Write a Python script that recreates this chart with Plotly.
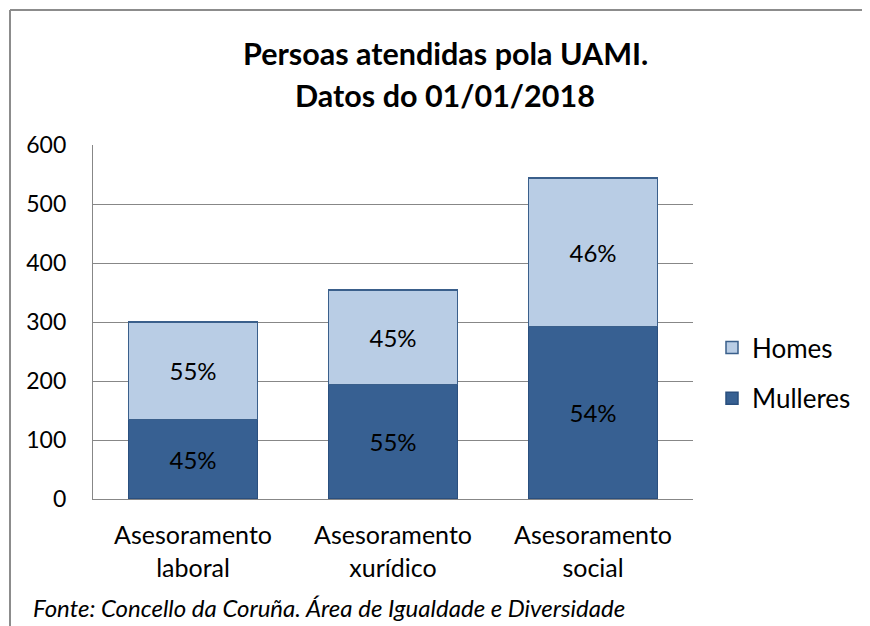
import plotly.graph_objects as go

categories = ["Asesoramento<br>laboral", "Asesoramento<br>xurídico", "Asesoramento<br>social"]
mulleres = [135, 194, 292]
homes = [165, 160, 252]
y_ticks = [0, 100, 200, 300, 400, 500, 600]
title_lines = ["Persoas atendidas pola UAMI.", "Datos do 01/01/2018"]
source = "Fonte: Concello da Coruña. Área de Igualdade e Diversidade"

totals = [m + h for m, h in zip(mulleres, homes)]
pct_m = [f"{round(100 * m / t)}%" for m, t in zip(mulleres, totals)]
pct_h = [f"{round(100 * h / t)}%" for h, t in zip(homes, totals)]

FONT = "Lato, 'Open Sans', sans-serif"
OFF = 8  # page body margin
W, H = 870 - OFF, 626 - OFF
# target page coordinates of plot area
PL, PR, PT, PB = 93, 693, 145, 499
L, R, T, B = PL - OFF, W - (PR - OFF), PT - OFF, H - (PB - OFF)
PW, PH = PR - PL, PB - PT

def px(x):
    return (x - PL) / PW

def py(y):
    return (PB - y) / PH

fig = go.Figure()
fig.add_trace(go.Bar(
    x=categories, y=mulleres, name="Mulleres", legendrank=2, legendgroup="m",
    marker=dict(color="#376092", line=dict(color="#2a4f7e", width=1.5)),
    text=pct_m, textposition="inside", insidetextanchor="middle",
    textfont=dict(family=FONT, size=24, color="#000000"),
))
fig.add_trace(go.Bar(
    x=categories, y=homes, name="Homes", legendrank=1, legendgroup="h",
    marker=dict(color="#b9cde5", line=dict(color="#3a5f8b", width=1.5)),
    text=pct_h, textposition="inside", insidetextanchor="middle",
    textfont=dict(family=FONT, size=24, color="#000000"),
))

annotations = [
    dict(text=f"<b>{title_lines[0]}</b>", x=px(445), y=py(53), xref="paper", yref="paper",
         showarrow=False, xanchor="center", yanchor="middle",
         font=dict(family=FONT, size=30.5, color="#000000")),
    dict(text=f"<b>{title_lines[1]}</b>", x=px(445), y=py(95), xref="paper", yref="paper",
         showarrow=False, xanchor="center", yanchor="middle",
         font=dict(family=FONT, size=30.5, color="#000000")),
    dict(text=f"<i>{source}</i>", x=px(31), y=py(607), xref="paper", yref="paper",
         showarrow=False, xanchor="left", yanchor="middle",
         font=dict(family=FONT, size=24, color="#000000")),
]

shapes = [
    dict(type="line", xref="paper", yref="paper", x0=px(10), x1=px(890), y0=py(10), y1=py(10),
         line=dict(color="#8c8c8c", width=2)),
    dict(type="line", xref="paper", yref="paper", x0=px(10), x1=px(10), y0=py(10), y1=py(660),
         line=dict(color="#8c8c8c", width=2)),
]

fig.update_layout(
    width=W, height=H,
    margin=dict(l=L, r=R, t=T, b=B, autoexpand=False),
    paper_bgcolor="white", plot_bgcolor="white",
    barmode="stack", bargap=0.355,
    font=dict(family=FONT, size=22, color="#000000"),
    showlegend=True,
    legend=dict(x=px(712), y=py(373), xanchor="left", yanchor="middle",
                font=dict(family=FONT, size=26, color="#000000"),
                traceorder="grouped", tracegroupgap=14,
                itemwidth=30, bgcolor="rgba(0,0,0,0)"),
    annotations=annotations,
    shapes=shapes,
    uniformtext=dict(mode=False),
)
fig.update_yaxes(range=[0, 600], tickvals=y_ticks, showgrid=True, gridcolor="#878787", gridwidth=1.3,
                 showline=True, linecolor="#878787", linewidth=1.3, zeroline=False,
                 ticks="", ticklabelstandoff=21,
                 tickfont=dict(family=FONT, size=23, color="#000000"))
fig.update_xaxes(showline=True, linecolor="#878787", linewidth=1.3, ticks="",
                 ticklabelstandoff=14,
                 tickfont=dict(family=FONT, size=25, color="#000000"))

fig.write_html("out.html")
